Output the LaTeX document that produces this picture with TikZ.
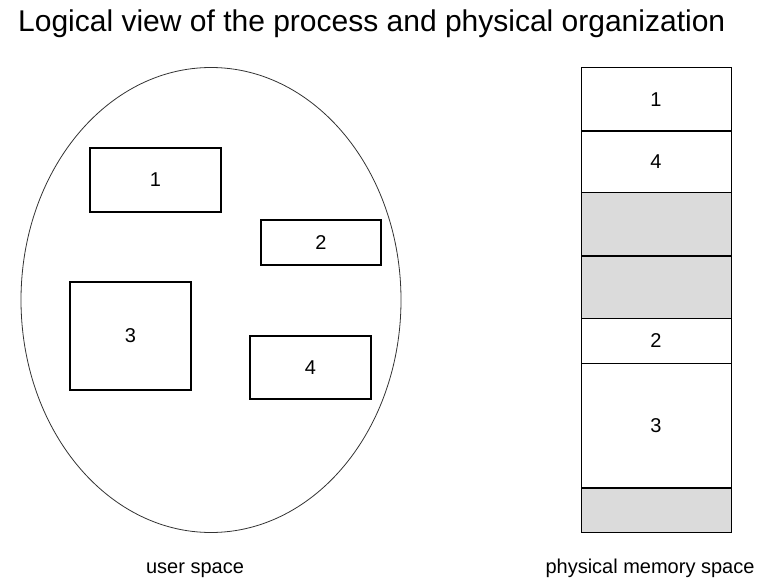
\documentclass[tikz,border=0pt]{standalone}
\usepackage{fontspec}
\setmainfont{Liberation Sans}
\usetikzlibrary{positioning,shapes.geometric}

\begin{document}
\begin{tikzpicture}[
    x=1pt, y=-1pt,
    every node/.style={font=\fontsize{20}{24}\selectfont, align=center},
    proc/.style={rectangle, draw=black, line width=1.3pt, inner sep=0pt},
    cell/.style={rectangle, draw=black, line width=1pt, minimum width=150, outer sep=0pt, inner sep=0pt},
    free/.style={cell, fill=black!14},
    sep/.style={line width=2pt, black}
]
\useasboundingbox (0,0) rectangle (762,585);

% Title
\node[anchor=base west, inner sep=0pt, font=\fontsize{30}{36}\selectfont] (title) at (18,32) {Logical view of the process and physical organization};

% Logical view (left)
\node[ellipse, draw=black!80, line width=0.8pt, minimum width=380, minimum height=465, inner sep=0pt] (user) at (211,300) {};
\node[proc, minimum width=131, minimum height=64] (p1) at (155.5,180) {1};
\node[proc, minimum width=120, minimum height=45] (p2) at (321,242.5) {2};
\node[proc, minimum width=121, minimum height=108] (p3) at (130.5,336) {3};
\node[proc, minimum width=121, minimum height=63] (p4) at (310.5,367.5) {4};
\node[anchor=base] (ulabel) at (195,573) {user space};

% Physical memory (right)
\node[cell, anchor=north, minimum height=63] (m1) at (656,68) {1};
\node[cell, minimum height=62, below=0pt of m1] (m4) {4};
\node[free, minimum height=63, below=0pt of m4] (g1) {};
\node[free, minimum height=62, below=0pt of g1] (g2) {};
\node[cell, minimum height=45, below=0pt of g2] (m2) {2};
\node[cell, minimum height=125, below=0pt of m2] (m3) {3};
\node[free, minimum height=44, below=0pt of m3] (g3) {};
\draw[sep] (m1.south west) -- (m1.south east);
\draw[sep] (g1.south west) -- (g1.south east);
\draw[sep] (m3.south west) -- (m3.south east);
\node[anchor=base] (mlabel) at (650,573) {physical memory space};
\end{tikzpicture}
\end{document}
